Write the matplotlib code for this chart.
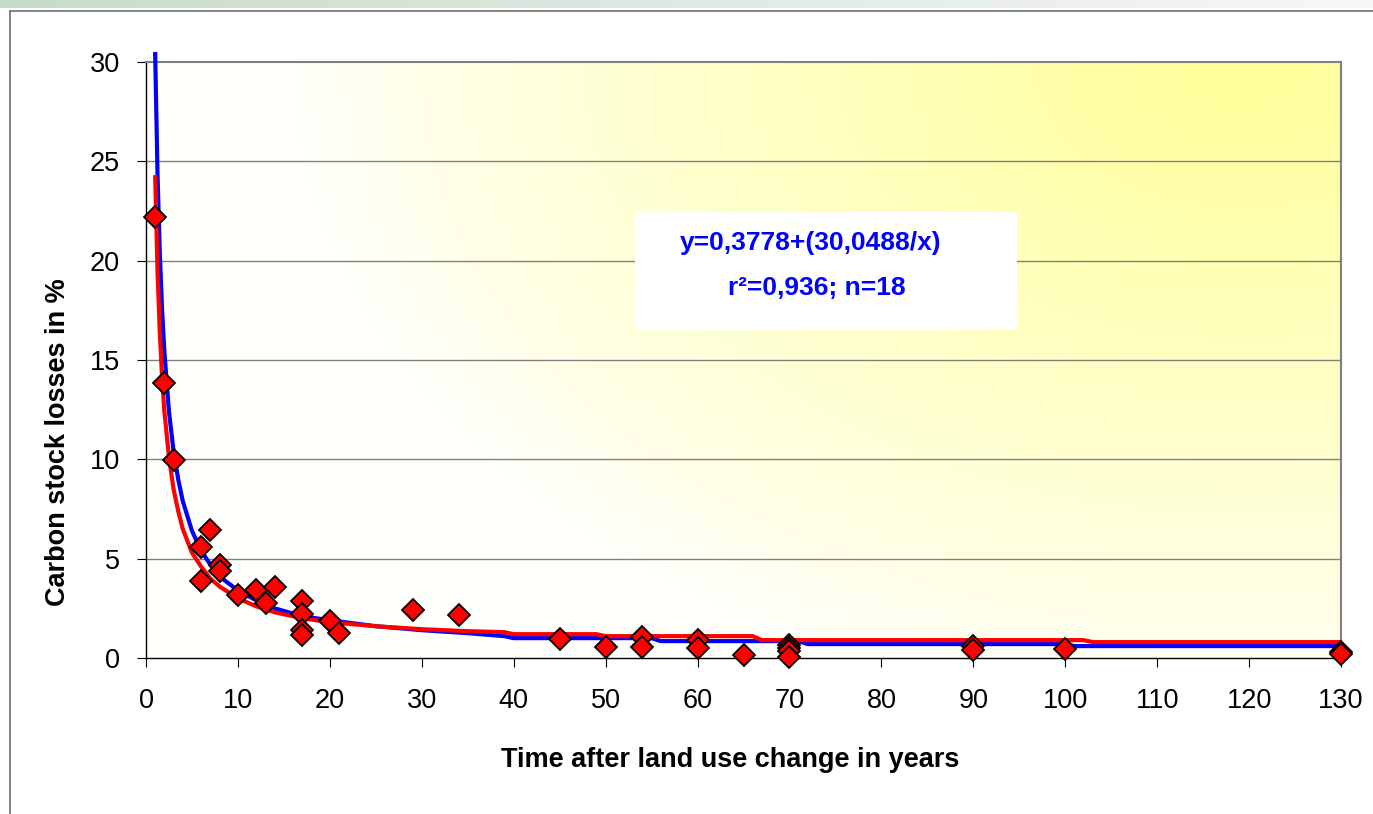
import numpy as np
import matplotlib.pyplot as plt
from matplotlib.lines import Line2D

plt.rcParams['font.family'] = ['Liberation Sans', 'DejaVu Sans']

# measured carbon stock losses (years after land use change, %)
years = [1, 2, 3, 6, 6, 7, 8, 8, 10, 12, 13, 14, 17, 17, 17, 17, 20, 21, 29, 34,
         45, 50, 54, 54, 60, 60, 65, 70, 70, 70, 70, 90, 90, 100, 130, 130]
losses = [22.2, 13.85, 9.95, 5.6, 3.9, 6.45, 4.7, 4.4, 3.15, 3.4, 2.75, 3.55, 2.85, 2.2, 1.4, 1.15,
          1.85, 1.25, 2.4, 2.15, 0.95, 0.55, 1.05, 0.55, 0.9, 0.5, 0.15, 0.65, 0.5, 0.35, 0.05,
          0.6, 0.4, 0.45, 0.3, 0.2]

# blue fit curve
blue_x = [1, 1.25, 1.5, 1.75, 2, 2.5, 3, 3.5, 4, 5, 6, 7, 8, 10, 12, 14, 17, 20, 25, 30,
          35, 39, 40, 55, 56, 71, 72, 100, 101, 130]
blue_y = [30.4, 24.4, 20.4, 17.5, 15.4, 12.4, 10.4, 9.0, 7.9, 6.4, 5.4, 4.7, 4.1, 3.4, 2.9,
          2.5, 2.1, 1.9, 1.6, 1.4, 1.25, 1.1, 1.0, 1.0, 0.85, 0.85, 0.7, 0.7, 0.6, 0.6]

# red curve
red_x = [1, 1.25, 1.5, 1.75, 2, 2.5, 3, 3.5, 4, 5, 6, 7, 8, 10, 12, 14, 17, 20, 25, 30,
         35, 39, 40, 49, 50, 66, 67, 102, 103, 130]
red_y = [24.2, 19.5, 16.4, 14.1, 12.4, 10.1, 8.5, 7.4, 6.5, 5.3, 4.6, 4.0, 3.6, 3.0, 2.6,
         2.3, 2.0, 1.8, 1.6, 1.45, 1.35, 1.3, 1.2, 1.2, 1.1, 1.1, 0.9, 0.9, 0.8, 0.8]

x_ticks = list(range(0, 131, 10))
y_ticks = [0, 5, 10, 15, 20, 25, 30]

eq_text = 'y=0,3778+(30,0488/x)'
stat_text = 'r²=0,936; n=18'

W, H = 1373, 814
fig = plt.figure(figsize=(W / 100, H / 100), dpi=100)

# slide-like band on top
band = fig.add_axes([0, 1 - 8 / H, 1, 8 / H])
g = np.linspace(0, 1, 300)[None, :]
band_cols = np.zeros((1, 300, 3))
band_cols[..., 0] = 0.78 + 0.19 * g
band_cols[..., 1] = 0.86 + 0.11 * g
band_cols[..., 2] = 0.80 + 0.17 * g
band.imshow(band_cols, aspect='auto', extent=[0, 1, 0, 1])
band.axis('off')

# chart area frame (runs off the image on right and bottom)
fx = 9.5 / W
fy = 1 - 11 / H
fig.add_artist(Line2D([fx, fx], [0, fy], transform=fig.transFigure, color='#707070', lw=1.2))
fig.add_artist(Line2D([fx, 1], [fy, fy], transform=fig.transFigure, color='#707070', lw=1.2))

ax = fig.add_axes([146 / W, 1 - 658 / H, 1195 / W, 596 / H])

# yellow gradient, strongest at top right
ny, nx = 200, 400
u = np.linspace(0, 1, nx)[None, :]
v = np.linspace(1, 0, ny)[:, None]
d = np.sqrt(((u - 0.92) / 0.8) ** 2 + ((v - 1.0) / 1.1) ** 2)
s = np.clip(1 - d, 0, 1) ** 0.85 * 0.97 + 0.03
img = np.ones((ny, nx, 3))
img[..., 2] = 1 - 0.4 * s
ax.imshow(img, extent=[0, 1, 0, 1], transform=ax.transAxes, aspect='auto',
          zorder=0, interpolation='bilinear')

ax.set_xlim(0, 130)
ax.set_ylim(0, 30)

for yv in y_ticks[1:-1]:
    ax.axhline(yv, color='#808080', lw=1.0, zorder=1)

# equation box
ax.add_patch(plt.Rectangle((0.409, 0.5503), 0.3196, 0.1985, transform=ax.transAxes,
                           facecolor='white', edgecolor='none', zorder=2))
ax.text(0.556, 0.6963, eq_text, transform=ax.transAxes, ha='center', va='center',
        fontsize=19, fontweight='bold', color='#0000FF', zorder=3)
ax.text(0.561, 0.6208, stat_text, transform=ax.transAxes, ha='center', va='center',
        fontsize=19, fontweight='bold', color='#0000FF', zorder=3)

ax.plot(blue_x, blue_y, color='#0000FF', lw=3.0, zorder=4, clip_on=False,
        solid_joinstyle='round')
ax.plot(red_x, red_y, color='#FF0000', lw=3.0, zorder=5, solid_joinstyle='round')
ax.plot(years, losses, linestyle='none', marker='D', markersize=11.5,
        markerfacecolor='#FF0000', markeredgecolor='black', markeredgewidth=1.3,
        zorder=6, clip_on=False)

ax.set_xticks(x_ticks)
ax.set_yticks(y_ticks)
ax.tick_params(axis='both', direction='out', length=6.8, width=0.8, color='black',
               labelsize=19.5)
ax.tick_params(axis='x', pad=15)
ax.tick_params(axis='y', pad=12)

for side in ['top', 'right']:
    ax.spines[side].set_color('#808080')
    ax.spines[side].set_linewidth(1.5)
for side in ['left', 'bottom']:
    ax.spines[side].set_color('black')
    ax.spines[side].set_linewidth(1.0)

ax.set_xlabel('Time after land use change in years', fontsize=19.5, fontweight='bold',
              va='center')
ax.xaxis.set_label_coords(0.4887, -0.171)
ax.set_ylabel('Carbon stock losses in %', fontsize=19.5, fontweight='bold', va='center')
ax.yaxis.set_label_coords(-0.074, 0.362)

fig.savefig('out.png', dpi=100)
